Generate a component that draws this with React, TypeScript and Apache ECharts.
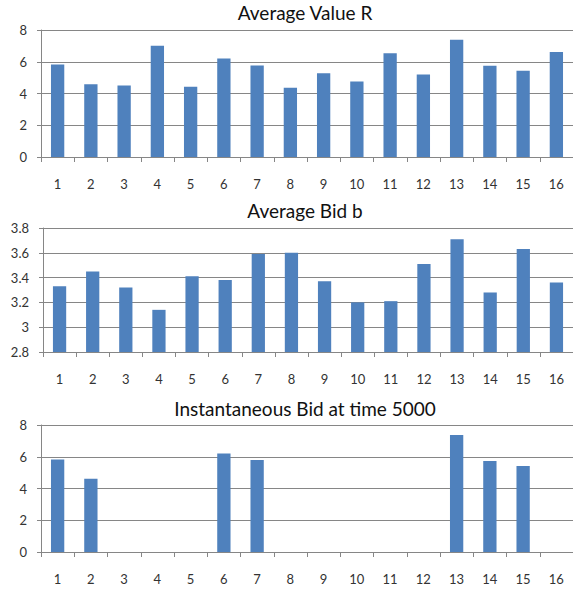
import React, { useEffect, useRef } from "react";
import * as echarts from "echarts";

const categories = ["1","2","3","4","5","6","7","8","9","10","11","12","13","14","15","16"];
const averageValueR = [5.83, 4.59, 4.5, 7.01, 4.42, 6.21, 5.77, 4.36, 5.28, 4.76, 6.53, 5.2, 7.38, 5.75, 5.43, 6.61];
const averageBidB = [3.33, 3.45, 3.32, 3.14, 3.41, 3.38, 3.59, 3.6, 3.37, 3.2, 3.21, 3.51, 3.71, 3.28, 3.63, 3.36];
const instantBid5000 = [5.83, 4.62, 0, 0, 0, 6.21, 5.79, 0, 0, 0, 0, 0, 7.37, 5.73, 5.42, 0];
const titles = ["Average Value R", "Average Bid b", "Instantaneous Bid at time 5000"];

const FONT = "Lato, 'Open Sans', sans-serif";
const BAR = "#4F81BD";
const GRID = "#868686";

export default function App() {
  const ref = useRef<HTMLDivElement>(null);
  useEffect(() => {
    if (!ref.current) return;
    const chart = echarts.init(ref.current, undefined, { renderer: "svg" });
    const grids = [
      { left: 41, top: 30, height: 127, right: -1 },
      { left: 43, top: 228, height: 124, right: -1 },
      { left: 41, top: 425, height: 127, right: -1 },
    ];
    const yRanges = [
      { min: 0, max: 8, interval: 2 },
      { min: 2.8, max: 3.8, interval: 0.2 },
      { min: 0, max: 8, interval: 2 },
    ];
    const datasets = [averageValueR, averageBidB, instantBid5000];
    const titleY = [12.5, 210, 408.5];
    chart.setOption({
      animation: false,
      backgroundColor: "#ffffff",
      textStyle: { fontFamily: FONT },
      grid: grids,
      xAxis: grids.map((_, i) => ({
        type: "category",
        gridIndex: i,
        data: categories,
        boundaryGap: true,
        axisLine: { show: true, lineStyle: { color: GRID, width: 1 } },
        axisTick: { show: true, alignWithLabel: false, length: 5, lineStyle: { color: GRID } },
        axisLabel: { color: "#333333", fontSize: 13, fontFamily: FONT, margin: 20, interval: 0 },
        splitLine: { show: false },
      })),
      yAxis: grids.map((_, i) => ({
        type: "value",
        gridIndex: i,
        min: yRanges[i].min,
        max: yRanges[i].max,
        interval: yRanges[i].interval,
        axisLine: { show: true, lineStyle: { color: GRID, width: 1 } },
        axisTick: { show: true, length: 4, lineStyle: { color: GRID } },
        axisLabel: {
          color: "#333333",
          fontSize: 13,
          fontFamily: FONT,
          margin: 14,
          formatter: (v: number) => String(Math.round(v * 10) / 10),
        },
        splitLine: { show: true, lineStyle: { color: GRID, width: 1 } },
      })),
      series: datasets.map((d, i) => ({
        type: "bar",
        xAxisIndex: i,
        yAxisIndex: i,
        data: d,
        barCategoryGap: "60%",
        itemStyle: { color: BAR },
      })),
      graphic: titles.map((t, i) => ({
        type: "text",
        x: 305,
        y: titleY[i],
        style: {
          text: t,
          fontSize: 19,
          fontFamily: FONT,
          fill: "#111111",
          align: "center",
          verticalAlign: "middle",
        },
      })),
    });
    return () => chart.dispose();
  }, []);
  return (
    <div
      ref={ref}
      style={{ position: "fixed", left: 0, top: 0, width: 573, height: 593 }}
    />
  );
}
